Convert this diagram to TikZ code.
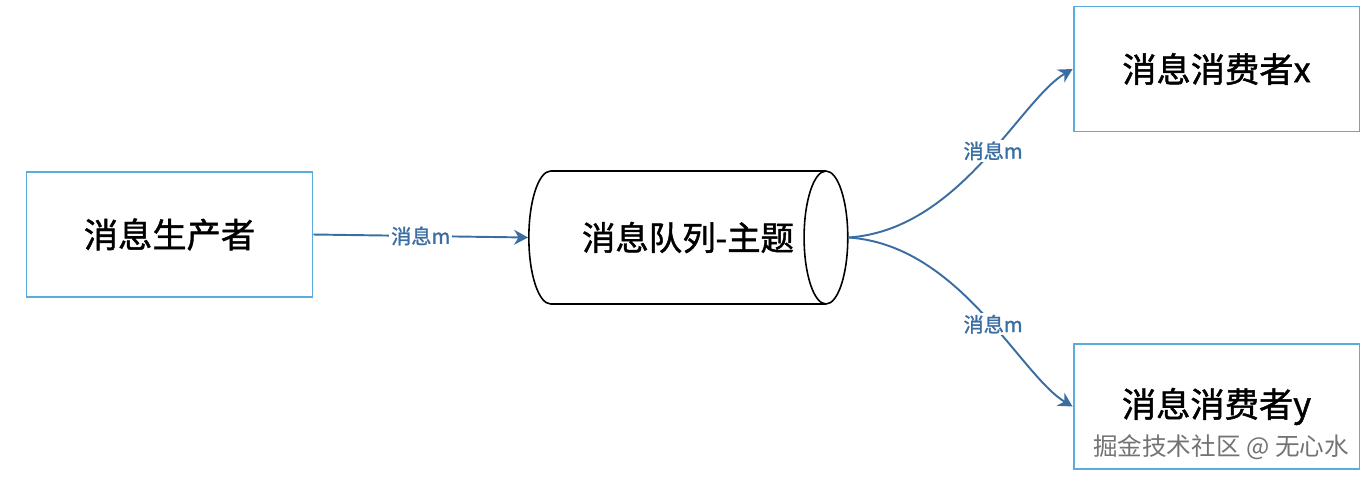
\documentclass[tikz,border=0pt]{standalone}
\usepackage{fontspec}
\setmainfont{Noto Sans CJK SC}
\newfontfamily\heavyfont{Noto Sans CJK SC}[FakeBold=1.3]
\usetikzlibrary{shapes.geometric, arrows.meta}

\definecolor{boxblue}{RGB}{90,172,222}
\definecolor{linkblue}{RGB}{58,110,162}

\tikzset{
  rolebox/.style={draw=boxblue, line width=1.1pt, minimum width=5.72cm, minimum height=2.5cm, font=\heavyfont\fontsize{19.5}{22}\selectfont},
  topic/.style={cylinder, draw, line width=0.9pt, shape aspect=1.4, minimum width=2.66cm, minimum height=6.38cm, inner sep=0pt, font=\heavyfont\fontsize{19}{22}\selectfont},
  msg/.style={->, draw=linkblue, line width=1.1pt},
  msglabel/.style={fill=white, text=linkblue, inner sep=1pt, font=\heavyfont\fontsize{11.5}{13}\selectfont}
}

\begin{document}
\begin{tikzpicture}[x=0.02cm, y=-0.02cm, >={Stealth[length=2.8mm, width=3mm, inset=0.9mm]}]
    \useasboundingbox (0,0) rectangle (1370,478);

    \node[rolebox] (producer) at (169.5,234.5) {消息生产者};
    \node[topic] (queue) at (677,237.5) {\hspace*{0.44cm}消息队列-主题};
    \node[rolebox] (consx) at (1216.5,69) {消息消费者x};
    \node[rolebox] (consy) at (1216.5,406.5) {消息消费者y};

    \draw[msg] (producer.east) -- node[msglabel] {消息m} (queue.west);
    \draw[msg] (queue.east) .. controls (960,230) and (1020,100) .. node[msglabel, pos=0.55] {消息m} (consx.west);
    \draw[msg] (queue.east) .. controls (960,245) and (1020,375) .. node[msglabel, pos=0.55] {消息m} (consy.west);

    \node[text=gray!90!black, font=\fontsize{14}{16}\selectfont] (mark) at (1221,447) {掘金技术社区 @ 无心水};
\end{tikzpicture}
\end{document}
